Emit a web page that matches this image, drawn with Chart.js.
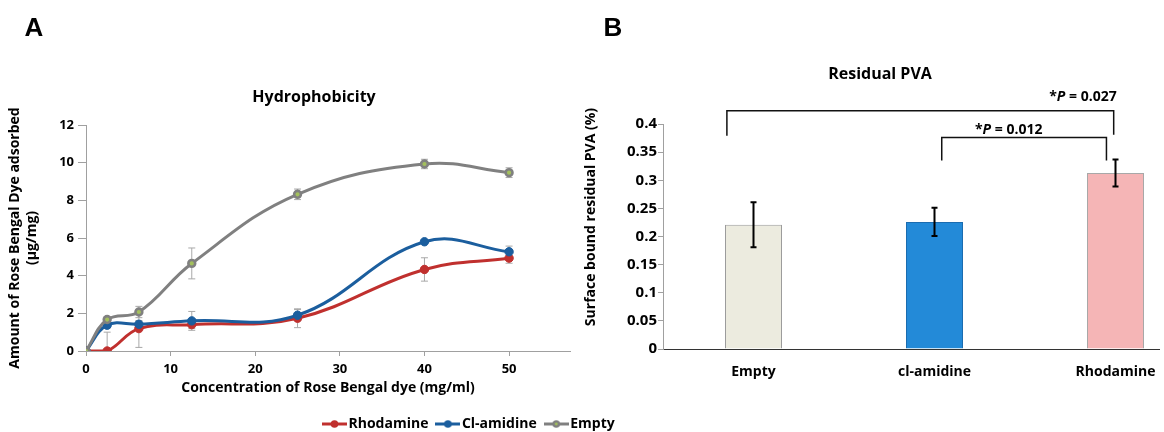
<!DOCTYPE html>
<html>
<head>
<meta charset="utf-8">
<script src="https://cdn.jsdelivr.net/npm/chart.js@4.4.1/dist/chart.umd.min.js"></script>
<style>
html,body{margin:0;padding:0;background:#fff;overflow:hidden;width:1164px;height:432px;}
body{position:relative;font-family:"Open Sans",sans-serif;}
.lbl{position:absolute;font-weight:bold;color:#000;white-space:nowrap;transform:translate(-50%,-50%);}
.letter{font-family:"Liberation Sans",Arial,sans-serif;font-size:26px;}
#wrapA{position:absolute;left:0;top:0;width:640px;height:432px;}
#wrapB{position:absolute;left:578px;top:0;width:582px;height:432px;overflow:hidden;}
</style>
</head>
<body>
<div id="wrapB"><canvas id="pva" width="640" height="432"></canvas></div>
<div id="wrapA"><canvas id="hydro" width="640" height="432"></canvas></div>
<div class="lbl letter" style="left:34px;top:27px">A</div>
<div class="lbl letter" style="left:613px;top:27px">B</div>
<div class="lbl" style="left:314px;top:96px;font-size:16px">Hydrophobicity</div>
<div class="lbl" style="left:880px;top:73px;font-size:16px">Residual PVA</div>
<div class="lbl" style="left:589px;top:217px;font-size:14px;transform:translate(-50%,-50%) rotate(-90deg)">Surface bound residual PVA (%)</div>
<script>
// ---- panel A data ----
const conc = [0, 2.5, 6.25, 12.5, 25, 40, 50];
const rhodamine = [0, 0, 1.19, 1.4, 1.74, 4.33, 4.93];
const rhodamineErr = [0, 1.0, 1.0, 0.2, 0.5, 0.62, 0.27];
const clAmidine = [0, 1.37, 1.42, 1.6, 1.9, 5.8, 5.27];
const clAmidineErr = [0, 0.15, 0.2, 0.5, 0.3, 0.1, 0.3];
const empty = [0, 1.67, 2.07, 4.65, 8.32, 9.93, 9.47];
const emptyErr = [0, 0.15, 0.3, 0.82, 0.28, 0.25, 0.26];
const xTicks = [0, 10, 20, 30, 40, 50];

// ---- panel B data ----
const groups = ['Empty', 'cl-amidine', 'Rhodamine'];
const pva = [0.221, 0.226, 0.313];
const pvaErr = [0.04, 0.025, 0.024];
// significance brackets, in category index / value units
const sig = [
  {from: -0.147, to: 1.99, level: 0.4236, footL: 0.379, footR: 0.381, p: '0.027', at: 1.82, textY: 0.4485},
  {from: 1.04, to: 1.95, level: 0.376, footL: 0.335, footR: 0.335, p: '0.012', at: 1.41, textY: 0.39}
];

const FONT = '"Open Sans", sans-serif';
const bold = (size) => ({family: FONT, size, weight: 'bold'});

function legendMark(color, dot){
  const c = document.createElement('canvas'); c.width = 25; c.height = 10;
  const g = c.getContext('2d');
  g.strokeStyle = color; g.lineWidth = 3;
  g.beginPath(); g.moveTo(0, 5); g.lineTo(25, 5); g.stroke();
  g.fillStyle = color; g.beginPath(); g.arc(12.5, 5, 3.8, 0, Math.PI*2); g.fill();
  if(dot){ g.fillStyle = dot; g.beginPath(); g.arc(12.5, 5, 1.4, 0, Math.PI*2); g.fill(); }
  return c;
}

function drawErrors(chart){
  const {ctx, chartArea: a, scales: {y}} = chart;
  ctx.save();
  ctx.beginPath(); ctx.rect(a.left, a.top - 20, a.width, a.height + 20); ctx.clip();
  chart.data.datasets.forEach((ds, i) => {
    if(!ds.errors) return;
    ctx.strokeStyle = ds.errorColor; ctx.lineWidth = ds.errorWidth;
    chart.getDatasetMeta(i).data.forEach((el, j) => {
      const e = ds.errors[j]; if(!e) return;
      const v = typeof ds.data[j] === 'object' ? ds.data[j].y : ds.data[j];
      const t = y.getPixelForValue(v + e), b = y.getPixelForValue(v - e), c = ds.errorCap;
      ctx.beginPath();
      ctx.moveTo(el.x, t); ctx.lineTo(el.x, b);
      ctx.moveTo(el.x - c, t); ctx.lineTo(el.x + c, t);
      ctx.moveTo(el.x - c, b); ctx.lineTo(el.x + c, b);
      ctx.stroke();
    });
  });
  ctx.restore();
}

const lineErrors = {id: 'lineErrors', beforeDatasetsDraw: drawErrors};
const barErrors = {id: 'barErrors', afterDatasetsDraw: drawErrors};

// move the legend under the plot, where the figure has it
const legendPlace = {
  id: 'legendPlace',
  afterLayout(chart){
    const lg = chart.legend; if(!lg) return;
    lg.left += 315; lg.right += 315;
    lg.top += 8.5; lg.bottom += 8.5;
  }
};

const brackets = {
  id: 'brackets',
  afterDatasetsDraw(chart){
    const {ctx, scales: {x, y}} = chart;
    ctx.save();
    ctx.strokeStyle = '#111'; ctx.lineWidth = 1.5;
    sig.forEach(b => {
      const x1 = x.getPixelForValue(b.from), x2 = x.getPixelForValue(b.to), yl = y.getPixelForValue(b.level);
      ctx.beginPath();
      ctx.moveTo(x1, y.getPixelForValue(b.footL)); ctx.lineTo(x1, yl);
      ctx.lineTo(x2, yl); ctx.lineTo(x2, y.getPixelForValue(b.footR));
      ctx.stroke();
      const parts = [['*', 'bold 14px ' + FONT], ['P', 'italic bold 14px ' + FONT], [' = ' + b.p, 'bold 14px ' + FONT]];
      let w = 0;
      parts.forEach(p => { ctx.font = p[1]; w += ctx.measureText(p[0]).width; });
      let cx = x.getPixelForValue(b.at) - w/2;
      const cy = y.getPixelForValue(b.textY);
      ctx.fillStyle = '#000'; ctx.textBaseline = 'middle'; ctx.textAlign = 'left';
      parts.forEach(p => { ctx.font = p[1]; ctx.fillText(p[0], cx, cy); cx += ctx.measureText(p[0]).width; });
    });
    ctx.restore();
  }
};

const pts = (ys) => conc.map((c, i) => ({x: c, y: ys[i]}));

new Chart(document.getElementById('hydro'), {
  type: 'line',
  data: {
    datasets: [
      {label: 'Rhodamine', data: pts(rhodamine), errors: rhodamineErr, borderColor: '#C0302E', backgroundColor: '#C0302E',
       pointBorderColor: '#C0302E', pointBackgroundColor: '#C0302E', order: 2, mark: legendMark('#C0302E')},
      {label: 'Cl-amidine', data: pts(clAmidine), errors: clAmidineErr, borderColor: '#1B5E9E', backgroundColor: '#1B5E9E',
       pointBorderColor: '#1B5E9E', pointBackgroundColor: '#1B5E9E', order: 1, mark: legendMark('#1B5E9E')},
      {label: 'Empty', data: pts(empty), errors: emptyErr, borderColor: '#808080', backgroundColor: '#808080',
       pointBorderColor: '#808080', pointBackgroundColor: '#A3C05C', pointBorderWidth: 2.6, pointRadius: 3.4, order: 0,
       mark: legendMark('#808080', '#A3C05C')}
    ].map(d => Object.assign({borderWidth: 3, tension: 0.4, pointRadius: 4.2, pointBorderWidth: 1,
      errorColor: '#A8A8A8', errorWidth: 1, errorCap: 3.5}, d))
  },
  options: {
    responsive: false, animation: false, devicePixelRatio: 1,
    layout: {padding: {top: 125, left: 0, right: 70, bottom: 0}},
    plugins: {
      tooltip: {enabled: false},
      legend: {
        position: 'bottom', align: 'start', maxHeight: 36,
        labels: {
          usePointStyle: true, pointStyleWidth: 14, padding: 12.5, color: '#000', font: bold(14),
          generateLabels: (chart) => chart.data.datasets.map((ds, i) => ({
            text: ds.label, pointStyle: ds.mark, fillStyle: ds.borderColor, strokeStyle: ds.borderColor,
            lineWidth: 0, hidden: false, datasetIndex: i, fontColor: '#000'
          }))
        }
      }
    },
    scales: {
      x: {
        type: 'linear', min: 0, max: 57.2,
        afterBuildTicks: (s) => { s.ticks = xTicks.map(v => ({value: v})); },
        ticks: {color: '#000', font: bold(13), padding: 5},
        grid: {drawOnChartArea: false, tickLength: 5, color: '#A0A0A0'},
        border: {color: '#A0A0A0'},
        title: {display: true, text: 'Concentration of Rose Bengal dye (mg/ml)', color: '#000', font: bold(14), padding: 0},
        afterFit: (s) => { s.height = 45; }
      },
      y: {
        min: 0, max: 12,
        ticks: {stepSize: 2, color: '#000', font: bold(13), padding: 4},
        grid: {drawOnChartArea: false, tickLength: 8, color: '#A0A0A0'},
        border: {color: '#A0A0A0'},
        title: {display: true, text: ['Amount of Rose Bengal Dye adsorbed', '(μg/mg)'], color: '#000', font: bold(14),
                padding: {top: 6.5, bottom: 0}},
        afterFit: (s) => { s.width = 86; }
      }
    }
  },
  plugins: [lineErrors, legendPlace]
});

new Chart(document.getElementById('pva'), {
  type: 'bar',
  data: {
    labels: groups,
    datasets: [{
      data: pva, errors: pvaErr,
      backgroundColor: ['#ECEBDF', '#238AD8', '#F5B5B6'],
      borderColor: ['#9C9C9C', '#1B6CB0', '#A8A8A8'],
      borderWidth: 1, barPercentage: 0.315, categoryPercentage: 1,
      errorColor: '#000', errorWidth: 2, errorCap: 3
    }]
  },
  options: {
    responsive: false, animation: false, devicePixelRatio: 1,
    layout: {padding: {top: 124, left: 0, right: 12, bottom: 43}},
    plugins: {legend: {display: false}, tooltip: {enabled: false}},
    scales: {
      x: {
        grid: {display: false, drawTicks: false},
        border: {color: '#333'},
        ticks: {color: '#000', font: bold(14), padding: 14.5},
        afterFit: (s) => { s.height = 40; }
      },
      y: {
        min: 0, max: 0.4,
        ticks: {stepSize: 0.05, color: '#000', font: bold(15), padding: 1, callback: (v) => String(+v.toFixed(2))},
        grid: {drawOnChartArea: false, tickLength: 5, color: '#A0A0A0'},
        border: {color: '#A0A0A0'},
        afterFit: (s) => { s.width = 85; }
      }
    }
  },
  plugins: [barErrors, brackets]
});
</script>
</body>
</html>
